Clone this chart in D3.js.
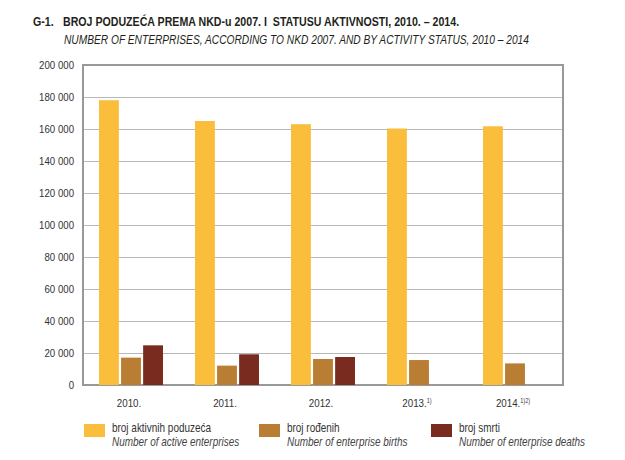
<!DOCTYPE html>
<html><head><meta charset="utf-8">
<script src="https://cdn.jsdelivr.net/npm/d3@7"></script>
<style>
body{margin:0;background:#fff;}
svg{display:block;font-family:"Liberation Sans","Arial",sans-serif;}
</style></head>
<body><svg id="c" width="625" height="460"></svg>
<script>
const years = ["2010.", "2011.", "2012.", "2013.", "2014."];
const yearSup = ["", "", "", "1)", "1)2)"];
const active = [178000, 165000, 163000, 160300, 161700];
const births = [17100, 12100, 16250, 15600, 13500];
const deaths = [24800, 19200, 17500, null, null];
const yTicks = [0, 20000, 40000, 60000, 80000, 100000, 120000, 140000, 160000, 180000, 200000];
const seriesKeys = ["active", "births", "deaths"];
const seriesHr = ["broj aktivnih poduzeća", "broj rođenih", "broj smrti"];
const seriesEn = ["Number of active enterprises", "Number of enterprise births", "Number of enterprise deaths"];
const colors = ["#FBBE3C", "#B97D34", "#7A2B20"];
const titleHr = "BROJ PODUZEĆA PREMA NKD-u 2007. I  STATUSU AKTIVNOSTI, 2010. – 2014.";
const titleEn = "NUMBER OF ENTERPRISES, ACCORDING TO NKD 2007. AND BY ACTIVITY STATUS, 2010 – 2014";

const values = {active, births, deaths};
const svg = d3.select("#c");
const L = 83, R = 563, T = 65, B = 385;

function condense(sel, f) {
  sel.each(function () {
    const x = +(this.getAttribute("x") || 0);
    this.setAttribute("transform", `translate(${x},0) scale(${f},1) translate(${-x},0)`);
  });
}

const x0 = d3.scaleBand().domain(years).range([L, R]).padding(0);
const groupW = 64;
const x1 = d3.scaleBand().domain(seriesKeys).range([0, groupW]).paddingInner(0.1).paddingOuter(0);
const y = d3.scaleLinear().domain([0, 200000]).range([B, T]);
const fmt = d3.formatLocale({decimal: ",", thousands: " ", grouping: [3], currency: ["", ""]}).format(",d");

// title
const t = svg.append("g").attr("fill", "#231f20");
t.append("text").attr("x", 33).attr("y", 26).attr("font-size", 12.5).attr("font-weight", "bold").text("G-1.");
t.append("text").attr("x", 63).attr("y", 26).attr("font-size", 12.5).attr("font-weight", "bold").attr("xml:space", "preserve").text(titleHr);
t.append("text").attr("x", 64).attr("y", 44).attr("font-size", 12).attr("font-style", "italic").text(titleEn);
condense(t.selectAll("text"), 0.85);

// gridlines
svg.append("g").selectAll("line").data(yTicks).join("line")
  .attr("x1", L).attr("x2", R).attr("y1", d => y(d)).attr("y2", d => y(d))
  .attr("stroke", "#b8b8b8").attr("stroke-width", 1).attr("shape-rendering", "crispEdges");

// y axis
const ya = svg.append("g").attr("transform", `translate(${L},0)`)
  .call(d3.axisLeft(y).tickValues(yTicks).tickFormat(fmt).tickSize(0).tickPadding(9));
ya.select(".domain").remove();
ya.selectAll("text").attr("font-size", 11.5).attr("fill", "#333").attr("font-family", "Liberation Sans, Arial, sans-serif");
condense(ya.selectAll("text"), 0.84);

// frame
svg.append("rect").attr("x", L).attr("y", T).attr("width", R - L).attr("height", B - T)
  .attr("fill", "none").attr("stroke", "#999").attr("stroke-width", 1.2).attr("shape-rendering", "crispEdges");

// bars
const groups = svg.append("g").selectAll("g").data(years).join("g")
  .attr("transform", d => `translate(${x0(d) + (x0.bandwidth() - groupW) / 2},0)`);
groups.selectAll("rect").data((d, i) => seriesKeys.map((k, j) => ({k, j, v: values[k][i]})).filter(e => e.v != null))
  .join("rect")
  .attr("x", e => x1(e.k)).attr("width", x1.bandwidth())
  .attr("y", e => y(e.v)).attr("height", e => B - y(e.v))
  .attr("fill", e => colors[e.j]);

// x labels
const xl = svg.append("g").selectAll("text").data(years).join("text")
  .attr("x", d => x0(d) + x0.bandwidth() / 2 - 2).attr("y", 407)
  .attr("text-anchor", "middle").attr("font-size", 11.5).attr("fill", "#333");
xl.text(d => d);
xl.append("tspan").attr("font-size", 6.5).attr("dy", -4).text((d, i) => yearSup[i]);
condense(xl, 0.85);

// legend
const legX = [84, 259, 431];
const lg = svg.append("g").selectAll("g").data(seriesKeys).join("g")
  .attr("transform", (d, i) => `translate(${legX[i]},0)`);
lg.append("rect").attr("x", 0).attr("y", 424).attr("width", 21).attr("height", 13).attr("fill", (d, i) => colors[i]);
lg.append("text").attr("class", "lt").attr("x", 28).attr("y", 432).attr("font-size", 12).attr("fill", "#333").text((d, i) => seriesHr[i]);
lg.append("text").attr("class", "lt").attr("x", 28).attr("y", 446).attr("font-size", 12).attr("font-style", "italic").attr("fill", "#444").text((d, i) => seriesEn[i]);
condense(lg.selectAll("text.lt"), 0.83);
</script></body></html>
